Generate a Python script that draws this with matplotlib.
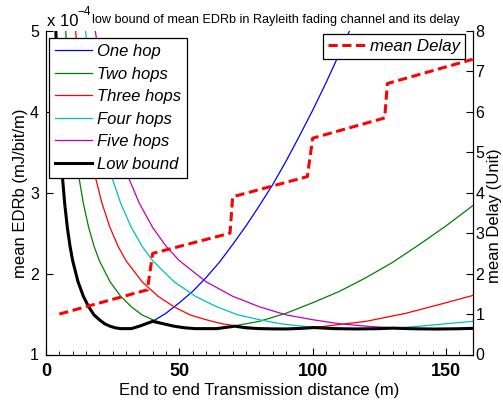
import matplotlib
matplotlib.use("Agg")
import matplotlib.pyplot as plt
from matplotlib.ticker import MultipleLocator

plt.rcParams['font.family'] = ['Liberation Sans', 'DejaVu Sans']

# mean EDRb, in units of 1e-4 mJ/bit/m
x_one = [3.7, 4, 4.5, 5, 6, 7, 8, 9, 10, 12, 14, 16, 18, 20, 22, 24, 26, 28, 30, 32, 35, 40,
         45, 50, 55, 60, 65, 70, 75, 80, 85, 90, 95, 100, 105, 110, 115]
y_one = [5.00, 4.66, 4.19, 3.82, 3.26, 2.87, 2.57, 2.34, 2.16, 1.90, 1.72, 1.59, 1.49, 1.43, 1.38, 1.35,
         1.33, 1.32, 1.32, 1.32, 1.35, 1.41, 1.51, 1.64, 1.78, 1.95, 2.14, 2.36, 2.59, 2.84, 3.10,
         3.39, 3.70, 4.02, 4.36, 4.72, 5.09]

x_two = [7.4, 8, 9, 10, 12, 14, 16, 18, 20, 24, 28, 32, 36, 40, 44, 48, 52, 56, 60, 64, 70, 80,
         90, 100, 110, 120, 130, 140, 150, 160]
y_two = [5.00, 4.66, 4.19, 3.82, 3.26, 2.87, 2.57, 2.34, 2.16, 1.90, 1.72, 1.59, 1.49, 1.43, 1.38, 1.35,
         1.33, 1.32, 1.32, 1.32, 1.35, 1.41, 1.51, 1.64, 1.78, 1.95, 2.14, 2.36, 2.59, 2.84]

x_three = [11.1, 12, 13.5, 15, 18, 21, 24, 27, 30, 36, 42, 48, 54, 60, 66, 72, 78, 84, 90, 96, 105,
           120, 135, 150, 160]
y_three = [5.00, 4.66, 4.19, 3.82, 3.26, 2.87, 2.57, 2.34, 2.16, 1.90, 1.72, 1.59, 1.49, 1.43, 1.38,
           1.35, 1.33, 1.32, 1.32, 1.32, 1.35, 1.41, 1.51, 1.64, 1.73]

x_four = [14.8, 16, 18, 20, 24, 28, 32, 36, 40, 48, 56, 64, 72, 80, 88, 96, 104, 112, 120, 128, 140, 160]
y_four = [5.00, 4.66, 4.19, 3.82, 3.26, 2.87, 2.57, 2.34, 2.16, 1.90, 1.72, 1.59, 1.49, 1.43, 1.38,
          1.35, 1.33, 1.32, 1.32, 1.32, 1.35, 1.41]

x_five = [18.5, 20, 22.5, 25, 30, 35, 40, 45, 50, 60, 70, 80, 90, 100, 110, 120, 130, 140, 150, 160]
y_five = [5.00, 4.66, 4.19, 3.82, 3.26, 2.87, 2.57, 2.34, 2.16, 1.90, 1.72, 1.59, 1.49, 1.43, 1.38,
          1.35, 1.33, 1.32, 1.32, 1.32]

x_low = [3.7, 4, 4.5, 5, 6, 7, 8, 9, 10, 12, 14, 16, 18, 20, 22, 24, 26, 28, 30, 32, 35, 40,
         44, 48, 52, 56, 60, 64, 70.8, 75, 80, 85, 90, 95, 100.5, 108, 116, 124, 130, 138, 146, 154, 160]
y_low = [5.00, 4.66, 4.19, 3.82, 3.26, 2.87, 2.57, 2.34, 2.16, 1.90, 1.72, 1.59, 1.49, 1.43, 1.38, 1.35,
         1.33, 1.32, 1.32, 1.32, 1.35, 1.41, 1.38, 1.35, 1.33, 1.32, 1.32, 1.32, 1.35, 1.33, 1.32,
         1.317, 1.316, 1.322, 1.333, 1.32, 1.316, 1.319, 1.326, 1.318, 1.315, 1.318, 1.323]

# mean delay (right axis)
x_delay = [5, 38, 40, 69, 70, 98, 100, 127, 128, 160]
y_delay = [1.0, 1.6, 2.5, 3.0, 3.9, 4.4, 5.35, 5.85, 6.7, 7.3]

fig = plt.figure(figsize=(5.03, 4.03), dpi=100)
ax = fig.add_axes([46 / 503, 1 - 354.5 / 403, 426.7 / 503, 323.5 / 403])
ax2 = ax.twinx()

ax.plot(x_one, y_one, color='b', lw=0.9, label='One hop')
ax.plot(x_two, y_two, color='#008000', lw=0.9, label='Two hops')
ax.plot(x_three, y_three, color='r', lw=0.9, label='Three hops')
ax.plot(x_four, y_four, color='c', lw=0.9, label='Four hops')
ax.plot(x_five, y_five, color='m', lw=0.9, label='Five hops')
ax.plot(x_low, y_low, color='k', lw=2.2, label='Low bound')

ax2.plot(x_delay, y_delay, color='r', lw=2.2, ls=(0, (3, 1.5)), label='mean Delay')

ax.set_xlim(0, 160)
ax.set_ylim(1, 5)
ax2.set_ylim(0, 8)

for a in (ax, ax2):
    a.spines['top'].set_visible(False)
    a.spines['left'].set_linewidth(0.8)
    a.spines['right'].set_linewidth(0.8)
    a.spines['bottom'].set_linewidth(0.8)

ax.xaxis.set_major_locator(MultipleLocator(50))
ax.xaxis.set_minor_locator(MultipleLocator(5))
ax.yaxis.set_major_locator(MultipleLocator(1))
ax2.yaxis.set_major_locator(MultipleLocator(1))
ax.tick_params(axis='x', which='major', direction='in', length=5, labelsize=13, pad=6, top=False)
ax.tick_params(axis='x', which='minor', direction='in', length=3, top=False)
ax.tick_params(axis='y', direction='in', length=5, labelsize=11.5, pad=5, right=False)
ax2.tick_params(axis='y', direction='in', length=5, labelsize=11.5, pad=2)
for lab in ax.get_xticklabels():
    lab.set_fontweight('bold')

ax.set_xlabel('End to end Transmission distance (m)', fontsize=12, labelpad=2)
ax.set_ylabel('mean EDRb (mJ/bit/m)', fontsize=12)
ax.yaxis.set_label_coords(-0.042, 0.5)
ax2.set_ylabel('mean Delay (Unit)', fontsize=12)
ax2.yaxis.set_label_coords(1.033, 0.43)

fig.text(47 / 503, 1 - 22 / 403, 'x 10', fontsize=12, ha='left', va='center')
fig.text(77 / 503, 1 - 12 / 403, '\u22124', fontsize=8.5, ha='left', va='center')
fig.text(92 / 503, 1 - 20 / 403, 'low bound of mean EDRb in Rayleith fading channel and its delay',
         fontsize=9.1, ha='left', va='center')

leg1 = ax.legend(loc='upper left', bbox_to_anchor=(49 / 503, 1 - 38 / 403), bbox_transform=fig.transFigure,
                 prop={'style': 'italic', 'size': 12}, fancybox=False, framealpha=1, edgecolor='k',
                 borderaxespad=0, handlelength=2.2, handletextpad=0.3, labelspacing=0.45,
                 borderpad=0.38)
leg1.get_frame().set_linewidth(0.9)
leg2 = ax2.legend(loc='upper left', bbox_to_anchor=(323 / 503, 1 - 34 / 403), bbox_transform=fig.transFigure,
                  prop={'style': 'italic', 'size': 12.2}, fancybox=False, framealpha=1, edgecolor='k',
                  borderaxespad=0, handlelength=2.25, handletextpad=0.2, borderpad=0.3)
leg2.get_frame().set_linewidth(0.9)

fig.savefig('out.png', dpi=100)
